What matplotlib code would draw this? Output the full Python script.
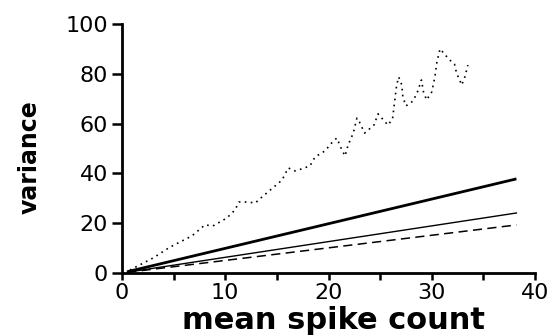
import matplotlib
matplotlib.use("Agg")
import matplotlib.pyplot as plt
from matplotlib.ticker import MultipleLocator

# observed variance vs mean (dotted trace)
obs_mean = [0.77, 3.0, 4.65, 6.78, 8.03, 8.81, 10.16, 10.94, 11.33, 12.2, 12.9,
            13.55, 15.5, 16.1, 16.75, 17.4, 18.2, 18.7, 19.65, 20.3, 20.8, 21.3,
            21.6, 21.9, 22.4, 22.75, 23.0, 23.5, 24.4, 24.8, 25.5, 25.75, 26.2,
            26.4, 26.6, 26.8, 27.1, 27.2, 27.5, 28.2, 28.65, 29.0, 29.2, 29.5,
            30.0, 30.3, 30.5, 30.8, 31.3, 31.75, 32.2, 32.4, 32.7, 32.9, 33.2, 33.5]
obs_var = [1.2, 6.0, 10.4, 14.9, 19.3, 18.9, 22.1, 25.3, 28.5, 28.5, 28.1,
           30.5, 37.3, 42.2, 41.0, 41.8, 43.0, 46.6, 49.0, 52.2, 54.2, 49.4,
           47.0, 51.4, 56.2, 62.2, 60.6, 56.2, 59.4, 63.9, 60.6, 59.4, 61.8,
           68.7, 75.5, 78.7, 75.5, 70.7, 67.1, 69.1, 73.1, 77.5, 72.7, 69.5,
           72.7, 78.7, 84.7, 90.0, 87.6, 85.5, 83.9, 80.3, 77.5, 75.5, 78.7, 83.5]

# model lines (start, end)
line_mean = [0.5, 38.2]
thick_var = [0.5, 37.8]
thin_var = [0.3, 24.1]
dash_var = [0.25, 19.3]

fig = plt.figure(figsize=(5.55, 3.36), dpi=100)
ax = fig.add_axes([0.2198, 0.1875, 0.7442, 0.7411])

ax.plot(obs_mean, obs_var, color="black", lw=1.2, linestyle=(0, (1, 2.6)))
ax.plot(line_mean, thick_var, color="black", lw=2.0, solid_capstyle="butt")
ax.plot(line_mean, thin_var, color="black", lw=1.0)
ax.plot(line_mean, dash_var, color="black", lw=1.1, linestyle=(0, (6, 3.5)))

ax.set_xlim(0, 40)
ax.set_ylim(0, 100)

for side in ("top", "right"):
    ax.spines[side].set_visible(False)
for side in ("left", "bottom"):
    ax.spines[side].set_linewidth(2.0)

ax.xaxis.set_major_locator(MultipleLocator(10))
ax.xaxis.set_minor_locator(MultipleLocator(5))
ax.yaxis.set_major_locator(MultipleLocator(20))
ax.tick_params(axis="both", which="both", direction="out", width=1.8,
               labelsize=16, colors="black")
ax.tick_params(axis="x", which="both", length=5, pad=2)
ax.tick_params(axis="y", which="major", length=7, pad=3)

ax.set_xlabel("mean spike count", fontsize=22, fontweight="bold",
              family="DejaVu Sans", va="center")
ax.xaxis.set_label_coords(0.513, -0.19)
ax.set_ylabel("variance", fontsize=17, fontweight="bold",
              family="DejaVu Sans", va="center")
ax.yaxis.set_label_coords(-0.223, 0.466)

fig.savefig("out.png", dpi=100)
